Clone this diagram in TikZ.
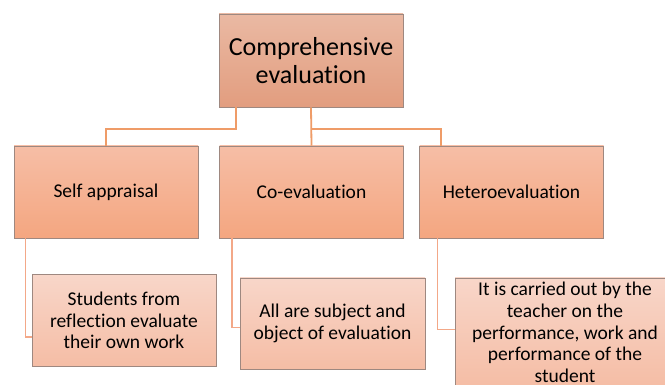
\documentclass[tikz,border=0pt]{standalone}
\usepackage{fontspec}
\setmainfont{Carlito}[Ligatures=NoCommon]
\usetikzlibrary{calc}
\definecolor{bordc}{RGB}{158,136,128}
\definecolor{connAc}{RGB}{239,156,104}
\definecolor{connBc}{RGB}{243,168,136}
\definecolor{topA}{RGB}{234,185,163}
\definecolor{topB}{RGB}{226,157,127}
\definecolor{midA}{RGB}{246,190,166}
\definecolor{midB}{RGB}{244,166,128}
\definecolor{lowA}{RGB}{248,214,201}
\definecolor{lowB}{RGB}{245,189,165}
\tikzset{
  boxbase/.style={rectangle, draw=bordc, line width=0.8pt, align=center, inner sep=2pt, text=black},
  topbox/.style={boxbase, top color=topA, bottom color=topB, minimum width=184pt, minimum height=93pt,
    font=\fontsize{26}{28}\selectfont},
  midbox/.style={boxbase, top color=midA, bottom color=midB, minimum width=184pt, minimum height=92pt,
    font=\fontsize{19.5}{21.5}\selectfont},
  lowbox/.style={boxbase, top color=lowA, bottom color=lowB, minimum width=184pt, minimum height=92pt,
    font=\fontsize{19.5}{21.6}\selectfont},
  connA/.style={draw=connAc, line width=1.8pt},
  connB/.style={draw=connBc, line width=1.6pt}
}
\begin{document}
\begin{tikzpicture}[x=1pt,y=-1pt]
\useasboundingbox (0,0) rectangle (665,385);
\clip (0,0) rectangle (665,385);
\fill[white] (0,0) rectangle (665,385);
\node[topbox] (top) at (311,60.5) {Comprehensive\\evaluation};
\node[midbox] (self) at (106,192) {Self appraisal};
\node[midbox] (co) at (311.5,192) {Co-evaluation};
\node[midbox] (het) at (511.5,192) {Heteroevaluation};
\node[lowbox] (b1) at (124,320.5) {Students from\\reflection evaluate\\their own work};
\node[lowbox, minimum width=185pt, minimum height=91pt] (b2) at (332.5,323.5) {All are subject and\\object of evaluation};
\node[lowbox, minimum width=220pt, minimum height=109pt] (b3) at (565,332.5) {It is carried out by the\\teacher on the\\performance, work and\\performance of the\\student};
% top-level connectors
\draw[connA] ([xshift=17pt]top.south west) -- ++(0,22) -| (self.north);
\draw[connA] (top.south) -- (co.north);
\draw[connA] (top.south) ++(0,22) -| ([xshift=22pt]het.north west);
% lower connectors
\draw[connB] ([xshift=12pt]self.south west) |- ([yshift=30pt]b1.south west);
\draw[connB] ([xshift=13pt]co.south west) |- ([yshift=42pt]b2.south west);
\draw[connB] ([xshift=18.5pt]het.south west) |- ([yshift=-52pt]b3.north west);
\end{tikzpicture}
\end{document}
